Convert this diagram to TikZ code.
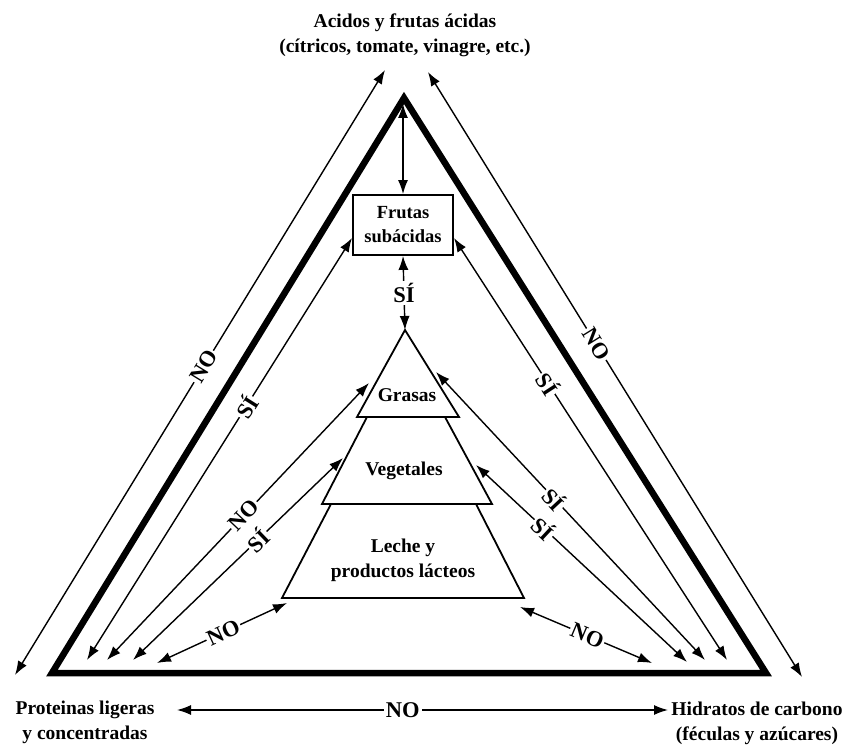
\documentclass[tikz,border=0pt]{standalone}
\usepackage{fontspec}
\setmainfont{Liberation Serif}
\usetikzlibrary{arrows.meta}
\begin{document}
\begin{tikzpicture}[x=1pt,y=-1pt,
  lbl/.style={font=\bfseries\fontsize{19.5}{25}\selectfont, align=center, inner sep=0pt},
  yn/.style={font=\bfseries\fontsize{22.5}{22.5}\selectfont, fill=white, inner sep=1.5pt, sloped},
  ynv/.style={font=\bfseries\fontsize{22.5}{22.5}\selectfont, fill=white, inner sep=2pt},
  dbl/.style={line width=1.4pt, {Latex[length=14pt,width=10pt]}-{Latex[length=14pt,width=10pt]}},
  tier/.style={line width=1.8pt, line join=miter},
  big/.style={line width=6.5pt, line join=miter}]
\useasboundingbox (0,0) rectangle (847,746);

% big triangle
\coordinate (A) at (404,98);
\coordinate (L) at (52,673);
\coordinate (R) at (766,673);
\draw[big] (A) -- (L) -- (R) -- cycle;

% corner labels
\node[lbl] (top) at (405,35) {Acidos y frutas ácidas\\(cítricos, tomate, vinagre, etc.)};
\node[lbl] (prot) at (85,722) {Proteinas ligeras\\y concentradas};
\node[lbl] (hidr) at (757,723) {Hidratos de carbono\\(féculas y azúcares)};

% box
\node[lbl, font=\bfseries\fontsize{18.5}{24}\selectfont, draw, line width=1.8pt, minimum width=100pt, minimum height=60pt] (box) at (403,225) {Frutas\\subácidas};

% pyramid
\coordinate (g1) at (405,330);
\coordinate (g2) at (357,417);
\coordinate (g3) at (459,417);
\coordinate (v1) at (367,417);
\coordinate (v2) at (322,504);
\coordinate (v3) at (492,504);
\coordinate (v4) at (445,417);
\coordinate (l1) at (331,504);
\coordinate (l2) at (282,598);
\coordinate (l3) at (524,598);
\coordinate (l4) at (476,504);
\draw[tier] (g1) -- (g2) -- (g3) -- cycle;
\draw[tier] (v1) -- (v2) -- (v3) -- (v4);
\draw[tier] (l1) -- (l2) -- (l3) -- (l4);
\node[lbl] (grasas) at (407,395) {Grasas};
\node[lbl] (veget) at (404,471) {Vegetales};
\node[lbl] (leche) at (403,560) {Leche y\\productos lácteos};

% arrow end points
\coordinate (oL1) at (15,675);
\coordinate (oL2) at (385,70);
\coordinate (oR1) at (428,72);
\coordinate (oR2) at (802,677);
\coordinate (apx) at (403,104);
\coordinate (bL) at (352,238);
\coordinate (bR) at (454,238);
\coordinate (gL) at (369,383);
\coordinate (gR) at (436,372);
\coordinate (vL) at (343,458);
\coordinate (vR) at (476,465);
\coordinate (lL) at (287,603);
\coordinate (lR) at (520,607);
\coordinate (eL1) at (87,660);
\coordinate (eL2) at (107,660);
\coordinate (eL3) at (133,660);
\coordinate (eL4) at (157,663);
\coordinate (eR1) at (727,660);
\coordinate (eR2) at (705,660);
\coordinate (eR3) at (687,662);
\coordinate (eR4) at (652,663);
\coordinate (hL) at (177,710);
\coordinate (hR) at (668,710);

% connectors
\draw[dbl] (oL1) -- node[yn,pos=0.51]{NO} (oL2);
\draw[dbl] (oR1) -- node[yn,pos=0.45]{NO} (oR2);
\draw[dbl] (apx) -- (box.north);
\draw[dbl] (box.south) -- node[ynv,pos=0.5]{SÍ} (g1);
\draw[dbl] (bL) -- node[yn,pos=0.40]{SÍ} (eL1);
\draw[dbl] (bR) -- node[yn,pos=0.345]{SÍ} (eR1);
\draw[dbl] (gL) -- node[yn,pos=0.477]{NO} (eL2);
\draw[dbl] (vL) -- node[yn,pos=0.406]{SÍ} (eL3);
\draw[dbl] (lL) -- node[yn,pos=0.49]{NO} (eL4);
\draw[dbl] (gR) -- node[yn,pos=0.44]{SÍ} (eR2);
\draw[dbl] (vR) -- node[yn,pos=0.32]{SÍ} (eR3);
\draw[dbl] (lR) -- node[yn,pos=0.51]{NO} (eR4);
\draw[dbl] (hL) -- node[ynv,pos=0.46]{NO} (hR);
\end{tikzpicture}
\end{document}
